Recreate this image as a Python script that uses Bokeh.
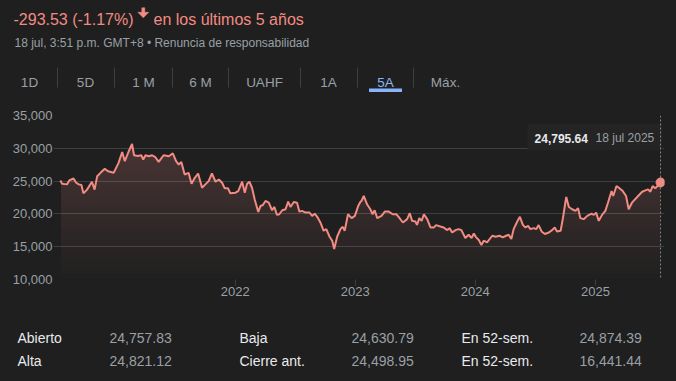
import numpy as np
import pandas as pd
from datetime import timedelta
from bokeh.plotting import figure
from bokeh.layouts import column
from bokeh.models import Range1d, FixedTicker, NumeralTickFormatter, DatetimeTickFormatter, Span
from bokeh.core.properties import value
from bokeh.embed import file_html
from bokeh.resources import INLINE

# ---------------- data ----------------
dates = [
    "2020-07-18", "2020-07-23", "2020-08-07", "2020-08-14", "2020-08-27", "2020-09-04", "2020-09-12",
    "2020-09-20", "2020-09-26", "2020-10-07", "2020-10-22", "2020-10-30", "2020-11-07", "2020-11-17",
    "2020-11-30", "2020-12-10", "2020-12-27",
    "2021-01-11", "2021-01-22", "2021-01-30", "2021-02-11", "2021-02-21", "2021-02-27", "2021-03-11",
    "2021-03-21", "2021-03-27", "2021-04-03", "2021-04-13", "2021-04-23", "2021-05-03", "2021-05-13",
    "2021-05-28", "2021-06-13", "2021-06-25", "2021-07-05", "2021-07-13", "2021-07-21", "2021-07-31",
    "2021-08-12", "2021-08-21", "2021-08-31", "2021-09-10", "2021-09-22", "2021-10-02", "2021-10-12",
    "2021-10-22", "2021-11-02", "2021-11-12", "2021-11-22", "2021-11-30", "2021-12-10", "2021-12-17",
    "2022-01-02", "2022-01-10", "2022-01-22", "2022-01-30", "2022-02-06", "2022-02-13", "2022-02-21",
    "2022-03-01", "2022-03-12", "2022-03-19", "2022-03-26", "2022-04-03", "2022-04-13", "2022-04-23",
    "2022-04-30", "2022-05-08", "2022-05-15", "2022-05-24", "2022-06-03", "2022-06-11", "2022-06-18",
    "2022-06-28", "2022-07-08", "2022-07-15", "2022-07-23", "2022-08-03", "2022-08-15", "2022-08-23",
    "2022-08-31", "2022-09-10", "2022-09-17", "2022-09-27", "2022-10-05", "2022-10-15", "2022-10-23",
    "2022-10-29", "2022-11-07", "2022-11-17", "2022-11-24", "2022-11-30", "2022-12-10", "2022-12-21",
    "2022-12-31",
    "2023-01-10", "2023-01-17", "2023-01-20", "2023-01-27", "2023-02-06", "2023-02-16", "2023-02-23",
    "2023-03-01", "2023-03-09", "2023-03-22", "2023-04-01", "2023-04-13", "2023-04-25", "2023-05-06",
    "2023-05-13", "2023-05-26", "2023-06-08", "2023-06-16", "2023-06-23", "2023-07-03", "2023-07-08",
    "2023-07-15", "2023-07-22", "2023-07-29", "2023-08-08", "2023-08-18", "2023-08-28", "2023-09-04",
    "2023-09-17", "2023-09-27", "2023-10-08", "2023-10-15", "2023-10-23", "2023-11-02", "2023-11-12",
    "2023-11-20", "2023-12-02", "2023-12-12", "2023-12-21", "2023-12-28",
    "2024-01-04", "2024-01-12", "2024-01-20", "2024-01-27", "2024-02-06", "2024-02-22", "2024-03-03",
    "2024-03-15", "2024-03-25", "2024-04-04", "2024-04-12", "2024-04-20", "2024-04-27", "2024-05-08",
    "2024-05-16", "2024-05-25", "2024-06-02", "2024-06-10", "2024-06-17", "2024-06-27", "2024-07-05",
    "2024-07-12", "2024-07-21", "2024-07-31", "2024-08-12", "2024-08-22", "2024-08-30", "2024-09-06",
    "2024-09-17", "2024-09-24", "2024-10-04", "2024-10-12", "2024-10-22", "2024-11-01", "2024-11-09",
    "2024-11-16", "2024-11-26", "2024-12-07", "2024-12-20", "2024-12-27",
    "2025-01-03", "2025-01-11", "2025-01-21", "2025-01-31", "2025-02-08", "2025-02-19", "2025-02-24",
    "2025-03-06", "2025-03-13", "2025-03-25", "2025-04-04", "2025-04-12", "2025-04-22", "2025-05-08",
    "2025-05-23", "2025-06-02", "2025-06-10", "2025-06-17", "2025-06-24", "2025-07-02", "2025-07-18",
]
values = [
    25089.17, 24600, 24500, 25100, 25400, 24750, 24500,
    24400, 23130, 23700, 24900, 23700, 25750, 26260,
    26870, 26500, 26260,
    27770, 29440, 28030, 29550, 30660, 28940, 28840,
    28940, 28290, 28940, 28790, 28940, 28640, 27920,
    28940, 28790, 29240, 28030, 27530, 27920, 26010,
    26260, 24600, 25500, 26160, 23990, 24500, 25000,
    26160, 24900, 25250, 24750, 23900, 23900, 23140,
    23230, 23480, 24900, 23230, 24600, 24900, 23990,
    22230, 20300, 21210, 21360, 21970, 21710, 20560,
    21060, 19850, 19950, 20560, 20710, 21860, 21060,
    21820, 21710, 20350, 20460, 20200, 20200, 19700,
    20040, 19350, 18690, 17430, 17680, 16520, 15910,
    14650, 16520, 17680, 18030, 17430, 19950, 19350,
    19700,
    21210, 21860, 21970, 22730, 21470, 20710, 19950,
    20560, 19350, 19700, 20350, 20350, 19950, 19950,
    19550, 18690, 19200, 20110, 18940, 18840, 18330,
    19350, 18940, 19950, 19200, 17930, 17930, 18290,
    18080, 17930, 17530, 17830, 17170, 17530, 17680,
    17530, 16320, 16820, 16320, 17020,
    16420, 16020, 15260, 15910, 15650, 16670, 16520,
    16670, 16420, 16670, 16820, 16170, 17680, 18840,
    19550, 18330, 17930, 18180, 17680, 17830, 17680,
    18290, 17330, 16930, 17170, 17530, 17930, 17330,
    17430, 19350, 22580, 21060, 20710, 20460, 20860,
    19350, 19200, 19700, 20040, 19850,
    20200, 18940, 19850, 20460, 21710, 23480, 22730,
    24250, 23990, 23480, 22730, 20710, 21710, 22580,
    23380, 23590, 23740, 23380, 24250, 23900, 24795.64,
]

y_ticks = [10000, 15000, 20000, 25000, 30000, 35000]
year_ticks = ["2022-01-01", "2023-01-01", "2024-01-01", "2025-01-01"]
tab_labels = ["1D", "5D", "1 M", "6 M", "UAHF", "1A", "5A", "Máx."]
active_tab = "5A"
stat_labels = [["Abierto", "Alta"], ["Baja", "Cierre ant."], ["En 52-sem.", "En 52-sem."]]
stat_values = [["24,757.83", "24,821.12"], ["24,630.79", "24,498.95"], ["24,874.39", "16,441.44"]]
subtitle = "18 jul, 3:51 p.m. GMT+8 \u2022 Renuncia de responsabilidad"
tip_date = "18 jul 2025"

# ---------------- style ----------------
BG = "#1f1f1f"
RED = "#f28b82"
GRID = "#3c4043"
GRAY = "#9aa0a6"
LIGHT = "#e8eaed"
BLUE = "#8ab4f8"
FONT = value("Liberation Sans")
W = 676

x = pd.to_datetime(dates)
v = np.array(values, dtype=float)


def blank(h):
    f = figure(width=W, height=h, x_range=Range1d(0, W), y_range=Range1d(h, 0),
               output_backend="svg", toolbar_location=None, min_border=0,
               x_axis_type=None, y_axis_type=None, title=None, frame_align=False)
    f.background_fill_color = BG
    f.border_fill_color = BG
    f.outline_line_color = None
    return f


# ---------------- header ----------------
head = blank(100)
change = v[-1] - v[0]
pct = change / v[0] * 100
head.text(x=[13], y=[18.5], text=[f"{change:,.2f} ({pct:.2f}%)"], text_font=FONT,
          text_font_size="16px", text_color=RED, text_baseline="alphabetic")
# down arrow icon
head.patch(x=[141.3, 144.3, 144.3, 148.3, 142.8, 137.3, 141.3],
           y=[7.3, 7.3, 11.8, 11.8, 17.3, 11.8, 11.8], fill_color=RED, line_color=RED, line_width=0.5)
head.text(x=[153], y=[18.5], text=["en los últimos 5 años"], text_font=FONT,
          text_font_size="16px", text_color=RED, text_baseline="alphabetic")
head.text(x=[14], y=[42], text=[subtitle], text_font=FONT, text_font_size="12px",
          text_color=GRAY, text_baseline="alphabetic")

tab_x = [29, 85, 143, 200, 264, 328, 385, 445]
sep_x = [57, 114, 172, 228, 300, 357, 413]
head.text(x=tab_x, y=[82] * len(tab_x), text=tab_labels, text_font=FONT, text_font_size="13.5px",
          text_color=[BLUE if t == active_tab else GRAY for t in tab_labels],
          text_baseline="alphabetic", text_align="center")
head.segment(x0=sep_x, x1=sep_x, y0=[67] * len(sep_x), y1=[87] * len(sep_x), line_color=GRID, line_width=1)
ai = tab_labels.index(active_tab)
head.quad(left=[tab_x[ai] - 16.5], right=[tab_x[ai] + 16.5], top=[88], bottom=[91.5],
          fill_color=BLUE, line_color=None)

# ---------------- chart ----------------
x_start = x[0] - timedelta(days=21)
x_end = x[-1] + timedelta(days=12)
p = figure(width=W, height=205, x_axis_type="datetime", output_backend="svg", toolbar_location=None,
           x_range=Range1d(x_start, x_end), y_range=Range1d(10000, 35000), frame_align=False,
           min_border_left=53, min_border_right=12, min_border_top=15, min_border_bottom=26, title=None)
p.background_fill_color = BG
p.border_fill_color = BG
p.outline_line_color = None
p.xgrid.visible = False
p.ygrid.grid_line_color = GRID
p.ygrid.grid_line_width = 1

p.yaxis.ticker = FixedTicker(ticks=y_ticks)
p.yaxis.formatter = NumeralTickFormatter(format="0,0")
p.yaxis.axis_line_color = None
p.yaxis.major_tick_line_color = None
p.yaxis.minor_tick_line_color = None
p.yaxis.major_label_standoff = 1
p.yaxis.major_tick_out = 0

yt = [pd.Timestamp(d).value / 1e6 for d in year_ticks]
p.xaxis.ticker = FixedTicker(ticks=yt)
p.xaxis.formatter = DatetimeTickFormatter(years="%Y", months="%Y", days="%Y", hours="%Y",
                                          minutes="%Y", seconds="%Y", milliseconds="%Y")
p.xaxis.axis_line_color = None
p.xaxis.major_tick_line_color = GRID
p.xaxis.major_tick_in = 0
p.xaxis.major_tick_out = 6
p.xaxis.minor_tick_line_color = None
p.xaxis.major_label_standoff = 1

for ax in (p.xaxis, p.yaxis):
    ax.major_label_text_font = "Liberation Sans"
    ax.major_label_text_font_size = "13px"
    ax.major_label_text_color = GRAY

# gradient-like fill: stacked translucent layers (opacity grows with height)
for b in np.arange(10000, 31001, 1000):
    p.varea(x=x, y1=np.minimum(v, b), y2=v, fill_color=RED, fill_alpha=0.01)

p.line(x, v, line_color=RED, line_width=2)

p.add_layout(Span(location=x[-1], dimension="height", line_color=GRAY, line_dash="2 2",
                  line_width=1, line_alpha=0.8))
p.scatter([x[-1]], [v[-1]], size=9, fill_color=RED, line_color=RED)

# hover tooltip box
p.quad(left=[x[-1] - timedelta(days=405)], right=[x[-1] + timedelta(days=6)],
       top=[33780], bottom=[29700], fill_color="#242424", line_color=None)
p.text(x=[x[-1]], y=[31540], text=[f"{v[-1]:,.2f}"], x_offset=-126, text_font=FONT,
       text_font_size="12px", text_font_style="bold", text_color=LIGHT, text_baseline="alphabetic")
p.text(x=[x[-1]], y=[31540], text=[tip_date], x_offset=-65, text_font=FONT,
       text_font_size="12px", text_color=GRAY, text_baseline="alphabetic")

# ---------------- stats ----------------
st = blank(76)
lab_x = [17, 239, 461]
val_x = [109, 351, 579]
row_y = [32.5, 55.5]
for c in range(3):
    st.text(x=[lab_x[c]] * 2, y=row_y, text=stat_labels[c], text_font=FONT, text_font_size="14px",
            text_color=LIGHT, text_baseline="alphabetic")
    st.text(x=[val_x[c]] * 2, y=row_y, text=stat_values[c], text_font=FONT, text_font_size="14px",
            text_color=GRAY, text_baseline="alphabetic")

layout = column(head, p, st, spacing=0)
html = file_html(layout, INLINE, title="chart")
html = html.replace("</head>", "<style>html,body{margin:0;padding:0;background:#1f1f1f;overflow:hidden;}</style></head>", 1)
open("out.html", "w").write(html)
